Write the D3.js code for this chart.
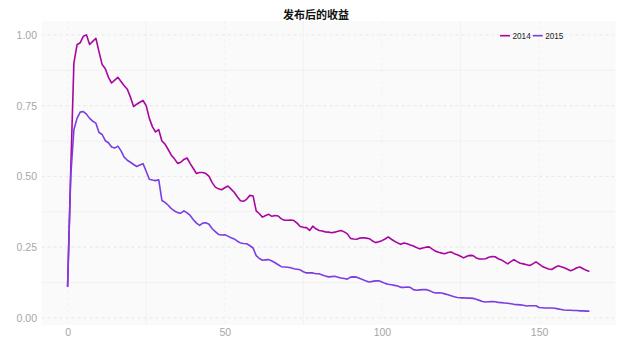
<!DOCTYPE html>
<html>
<head>
<meta charset="utf-8">
<script src="https://cdn.jsdelivr.net/npm/d3@7"></script>
<style>
  body { margin: 0; background: #fff; }
  text { font-family: "Liberation Sans", Arial, sans-serif; }
</style>
</head>
<body>
<svg id="chart"></svg>
<script>
// Width and height of svg
var width = 643;
var height = 354;

var title = "发布后的收益";
var seriesNames = ["2014", "2015"];
var seriesColors = ["#a8069f", "#7b3ee2"];
var yTicks = [0, 0.25, 0.5, 0.75, 1];
var xTicks = [0, 50, 100, 150];

// days after release, 0..166
var v2014 = [0.11,0.52,0.90,0.965,0.972,0.995,1.00,0.966,0.977,0.988,
  0.94,0.895,0.88,0.85,0.83,0.84,0.85,0.835,0.82,0.808,
  0.78,0.747,0.755,0.762,0.768,0.75,0.705,0.675,0.657,0.665,
  0.625,0.614,0.595,0.575,0.562,0.546,0.55,0.56,0.565,0.545,
  0.528,0.51,0.514,0.514,0.51,0.50,0.478,0.462,0.456,0.453,
  0.46,0.466,0.455,0.444,0.428,0.414,0.412,0.42,0.433,0.431,
  0.378,0.368,0.356,0.362,0.366,0.359,0.362,0.36,0.35,0.345,
  0.345,0.346,0.344,0.335,0.323,0.32,0.319,0.309,0.324,0.315,
  0.309,0.307,0.304,0.303,0.301,0.303,0.306,0.309,0.304,0.297,
  0.281,0.279,0.278,0.282,0.283,0.282,0.28,0.272,0.266,0.269,
  0.273,0.279,0.286,0.278,0.271,0.265,0.26,0.265,0.262,0.258,
  0.254,0.249,0.244,0.247,0.25,0.251,0.243,0.236,0.232,0.229,
  0.227,0.231,0.233,0.227,0.223,0.218,0.212,0.218,0.221,0.22,
  0.212,0.208,0.208,0.209,0.214,0.217,0.216,0.209,0.205,0.198,
  0.191,0.199,0.206,0.199,0.193,0.191,0.188,0.185,0.191,0.198,
  0.19,0.182,0.177,0.173,0.171,0.178,0.184,0.181,0.177,0.172,
  0.167,0.171,0.177,0.18,0.174,0.168,0.164];

var v2015 = [0.11,0.50,0.665,0.705,0.727,0.729,0.72,0.705,0.695,0.688,
  0.655,0.648,0.626,0.619,0.604,0.60,0.607,0.59,0.568,0.557,
  0.55,0.542,0.535,0.54,0.545,0.518,0.49,0.487,0.485,0.488,
  0.415,0.408,0.398,0.386,0.378,0.372,0.37,0.378,0.371,0.362,
  0.347,0.335,0.327,0.335,0.336,0.331,0.315,0.305,0.295,0.293,
  0.294,0.289,0.283,0.279,0.271,0.265,0.263,0.262,0.255,0.247,
  0.22,0.21,0.204,0.205,0.206,0.201,0.195,0.188,0.181,0.18,
  0.179,0.177,0.174,0.172,0.17,0.163,0.159,0.159,0.159,0.156,
  0.156,0.152,0.148,0.145,0.146,0.147,0.144,0.141,0.139,0.137,
  0.144,0.145,0.144,0.139,0.135,0.13,0.127,0.129,0.131,0.131,
  0.127,0.122,0.119,0.117,0.115,0.113,0.108,0.108,0.109,0.108,
  0.10,0.098,0.099,0.10,0.10,0.097,0.092,0.088,0.089,0.088,
  0.085,0.082,0.078,0.075,0.072,0.071,0.071,0.07,0.07,0.069,
  0.066,0.062,0.058,0.056,0.057,0.058,0.057,0.055,0.054,0.053,
  0.052,0.05,0.048,0.047,0.046,0.045,0.042,0.043,0.043,0.043,
  0.037,0.036,0.035,0.035,0.035,0.034,0.032,0.03,0.028,0.027,
  0.027,0.026,0.026,0.025,0.025,0.024,0.024];

var series = [v2014, v2015];

var panel = {left: 41.5, right: 615.5, top: 21, bottom: 325};

var x = d3.scaleLinear()
          .domain([-8.3, 174.3])
          .range([panel.left, panel.right]);

var y = d3.scaleLinear()
          .domain([-0.025, 1.049])
          .range([panel.bottom, panel.top]);

var svg = d3.select("#chart")
            .attr("width", width)
            .attr("height", height);

// panel background
svg.append("rect")
  .attr("x", panel.left)
  .attr("y", panel.top)
  .attr("width", panel.right - panel.left)
  .attr("height", panel.bottom - panel.top)
  .style("fill", "#fafafa");

// minor grid (solid, very faint)
var minorY = yTicks.slice(1).map(function(t) { return t - 0.125; });
var minorX = xTicks.slice(1).map(function(t) { return t - 25; });

svg.selectAll(".minor-y")
  .data(minorY)
  .enter()
  .append("line")
  .attr("x1", panel.left).attr("x2", panel.right)
  .attr("y1", function(d) { return y(d); })
  .attr("y2", function(d) { return y(d); })
  .style("stroke", "#efefef")
  .style("stroke-width", 0.8);

svg.selectAll(".minor-x")
  .data(minorX)
  .enter()
  .append("line")
  .attr("y1", panel.top).attr("y2", panel.bottom)
  .attr("x1", function(d) { return x(d); })
  .attr("x2", function(d) { return x(d); })
  .style("stroke", "#efefef")
  .style("stroke-width", 0.8);

// major grid (dashed)
svg.selectAll(".major-y")
  .data(yTicks)
  .enter()
  .append("line")
  .attr("x1", panel.left).attr("x2", panel.right)
  .attr("y1", function(d) { return y(d); })
  .attr("y2", function(d) { return y(d); })
  .style("stroke", "#e2e2e2")
  .style("stroke-width", 0.8)
  .style("stroke-dasharray", "3,3");

svg.selectAll(".major-x")
  .data(xTicks)
  .enter()
  .append("line")
  .attr("y1", panel.top).attr("y2", panel.bottom)
  .attr("x1", function(d) { return x(d); })
  .attr("x2", function(d) { return x(d); })
  .style("stroke", "#f0f0f0")
  .style("stroke-width", 0.8)
  .style("stroke-dasharray", "3,3");

// axes
var yAxis = d3.axisLeft(y)
  .tickValues(yTicks)
  .tickFormat(d3.format(".2f"))
  .tickSize(0)
  .tickPadding(4.5);

var xAxis = d3.axisBottom(x)
  .tickValues(xTicks)
  .tickSize(0)
  .tickPadding(4);

var gy = svg.append("g")
  .attr("transform", "translate(" + panel.left + ",0)")
  .call(yAxis);

var gx = svg.append("g")
  .attr("transform", "translate(0," + panel.bottom + ")")
  .call(xAxis);

[gx, gy].forEach(function(g) {
  g.select(".domain").remove();
  g.selectAll("text")
    .style("fill", "#a6a6a6")
    .style("font-size", "10.5px")
    .style("font-family", "Liberation Sans, Arial, sans-serif");
});

// lines
var line = d3.line()
  .x(function(d, i) { return x(i); })
  .y(function(d) { return y(d); });

svg.selectAll(".series")
  .data(series)
  .enter()
  .append("path")
  .attr("d", line)
  .style("fill", "none")
  .style("stroke", function(d, i) { return seriesColors[i]; })
  .style("stroke-width", 1.6)
  .style("stroke-linejoin", "round");

// title
svg.append("text")
  .attr("x", 316)
  .attr("y", 18.5)
  .attr("text-anchor", "middle")
  .style("font-family", "Noto Sans CJK SC, sans-serif")
  .style("font-weight", "bold")
  .style("font-size", "11px")
  .style("fill", "#111")
  .text(title);

// legend
var legend = svg.append("g")
  .attr("transform", "translate(500,35.7)");

var legendX = [0, 32.7];

var items = legend.selectAll("g")
  .data(seriesNames)
  .enter()
  .append("g")
  .attr("transform", function(d, i) { return "translate(" + legendX[i] + ",0)"; });

items.append("line")
  .attr("x1", 0).attr("x2", 10)
  .attr("y1", 0).attr("y2", 0)
  .style("stroke", function(d, i) { return seriesColors[i]; })
  .style("stroke-width", 1.6);

items.append("text")
  .attr("x", 12.5)
  .attr("y", 0)
  .attr("dy", "0.35em")
  .style("font-size", "8.2px")
  .style("fill", "#222")
  .text(function(d) { return d; });
</script>
</body>
</html>
